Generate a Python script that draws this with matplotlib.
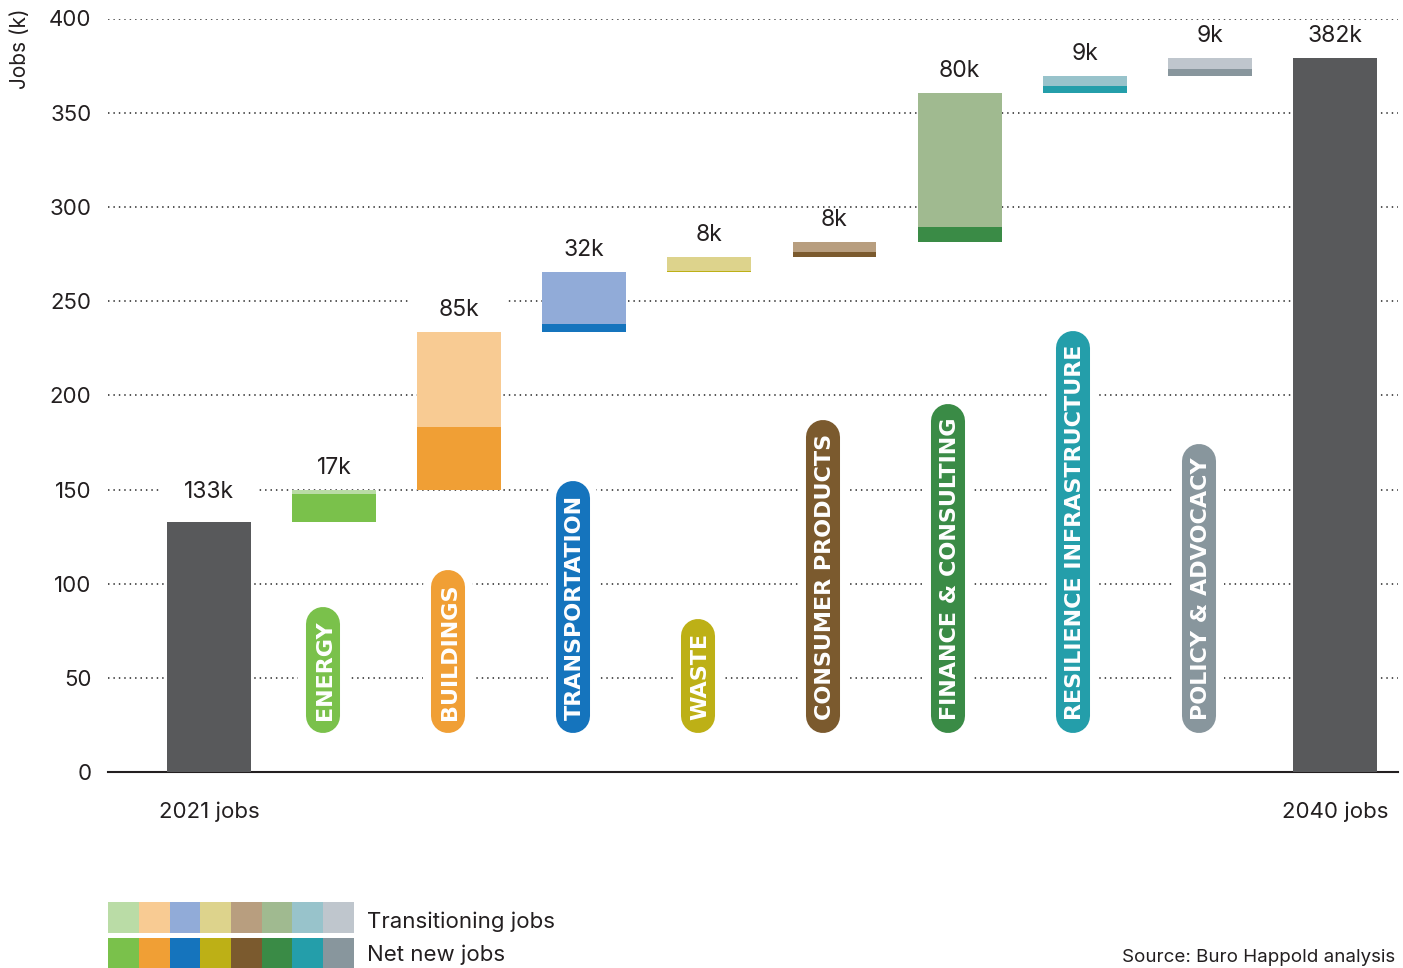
import matplotlib.pyplot as plt
import numpy as np

plt.rcParams['font.family'] = ['Inter', 'DejaVu Sans']

# data (thousands of jobs)
sectors = ["ENERGY", "BUILDINGS", "TRANSPORTATION", "WASTE", "CONSUMER PRODUCTS",
           "FINANCE & CONSULTING", "RESILIENCE INFRASTRUCTURE", "POLICY & ADVOCACY"]
net_new = [14.5, 33.7, 4.3, 0.5, 2.7, 7.9, 3.7, 3.7]
transitioning = [2.1, 50.4, 27.7, 7.3, 5.4, 71.1, 5.3, 5.8]
jobs_2021 = 133
jobs_2040 = 379
value_labels = ["133k", "17k", "85k", "32k", "8k", "8k", "80k", "9k", "9k", "382k"]
end_labels = ["2021 jobs", "2040 jobs"]
y_ticks = [0, 50, 100, 150, 200, 250, 300, 350, 400]

net_colors = ["#7AC14B", "#F09F35", "#1574BD", "#BDB016", "#7B5A2E", "#3A8B46", "#249EAA", "#88969D"]
trans_colors = ["#BADCA6", "#F8CB93", "#91ABD8", "#DDD38C", "#B89E7F", "#A0BA90", "#98C3CB", "#BFC6CD"]
dark = "#58595B"
ink = "#231F20"

W, H = 1403, 968
fig = plt.figure(figsize=(W / 100, H / 100), dpi=100)
ax = fig.add_axes([108 / W, 1 - 772.3 / H, (1398 - 108) / W, (772.3 - 18.5) / H])
px_per_unit = (772.3 - 18.5) / 400

n = len(sectors)
w = 0.67
xs = np.arange(1, n + 1)
net = np.array(net_new)
trans = np.array(transitioning)
base = jobs_2021 + np.concatenate([[0], np.cumsum(net + trans)[:-1]])

ax.bar([0, n + 1], [jobs_2021, jobs_2040], width=w, color=dark, zorder=3)
ax.bar(xs, net, bottom=base, width=w, color=net_colors, zorder=3)
ax.bar(xs, trans, bottom=base + net, width=w, color=trans_colors, zorder=3)

tops = [jobs_2021] + list(base + net + trans) + [jobs_2040]
for i, (top, lab) in enumerate(zip(tops, value_labels)):
    off = 30 if i == 0 else 22
    yc = top + off / px_per_unit
    # white mask so the dotted grid does not run through the label
    ax.bar(i, 22 / px_per_unit, bottom=yc - 11 / px_per_unit, width=w + 0.11,
           color="white", zorder=2)
    ax.text(i, yc, lab, ha="center", va="center", fontsize=16.5, color=ink, zorder=4)

ax.set_xlim(-0.807, 9.504)
ax.set_ylim(0, 400)
ax.set_yticks(y_ticks)
ax.set_xticks([0, n + 1])
ax.set_xticklabels(end_labels)
ax.tick_params(axis="y", length=0, pad=12, labelsize=16, labelcolor=ink)
ax.tick_params(axis="x", length=0, pad=21, labelsize=16, labelcolor=ink)
ax.yaxis.grid(True, linestyle=(0, (0.8, 2.2)), color="#444444", lw=1.3)
ax.set_axisbelow(True)
for s in ["left", "top", "right"]:
    ax.spines[s].set_visible(False)
ax.spines["bottom"].set_color(ink)
ax.spines["bottom"].set_linewidth(1.5)

# sector pills
texts = []
for xi, name, c in zip(xs, sectors, net_colors):
    t = ax.text(xi - 0.09, 28, name, rotation=90, rotation_mode="anchor",
                ha="left", va="center_baseline", color="white", fontsize=16,
                fontweight="bold", family=["DejaVu Sans"], zorder=6)
    texts.append(t)

fig.canvas.draw()
inv = ax.transData.inverted()
for t, xi, c in zip(texts, xs, net_colors):
    bb = t.get_window_extent()
    (_, y0), (_, y1) = inv.transform([[bb.x0, bb.y0], [bb.x1, bb.y1]])
    ya = y0 + 4 / px_per_unit
    yb = y1 - 4 / px_per_unit
    ax.plot([xi - 0.09] * 2, [ya, yb], color="white", lw=36, solid_capstyle="round", zorder=4)
    ax.plot([xi - 0.09] * 2, [ya, yb], color=c, lw=24.5, solid_capstyle="round", zorder=5)

fig.text(20 / W, 1 - 49 / H, "Jobs (k)", rotation=90, ha="center", va="center",
         fontsize=15, color=ink)

# legend swatches
lax = fig.add_axes([108 / W, 0, (354 - 108) / W, 66 / H])
lax.bar(range(n), 30.7, bottom=35.3, width=1, align="edge", color=trans_colors)
lax.bar(range(n), 30, bottom=0, width=1, align="edge", color=net_colors)
lax.set_xlim(0, n)
lax.set_ylim(0, 66)
lax.axis("off")
fig.text(367 / W, 1 - 922 / H, "Transitioning jobs", va="center", fontsize=16, color=ink)
fig.text(367 / W, 1 - 955 / H, "Net new jobs", va="center", fontsize=16, color=ink)
fig.text(1395 / W, 1 - 958 / H, "Source: Buro Happold analysis", ha="right", va="center",
         fontsize=13.5, color=ink)

fig.savefig("out.png", dpi=100)
